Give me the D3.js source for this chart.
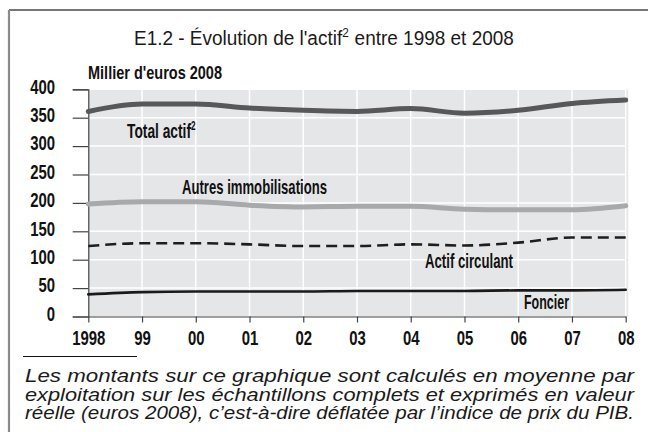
<!DOCTYPE html>
<html>
<head>
<meta charset="utf-8">
<script src="https://cdn.jsdelivr.net/npm/d3@7"></script>
<style>
  html, body { margin: 0; padding: 0; background: #fff; }
  svg { display: block; }
  text.pre { white-space: pre; }
</style>
</head>
<body>
<svg id="chart" width="648" height="432"></svg>
<script>
// ---- Data ----
const years = [1998, 1999, 2000, 2001, 2002, 2003, 2004, 2005, 2006, 2007, 2008];
const yearLabels = ["1998", "99", "00", "01", "02", "03", "04", "05", "06", "07", "08"];
const totalActif = [361, 374, 374, 367, 363, 361, 366, 358, 363, 375, 381];
const autresImmobilisations = [198, 202, 202, 196, 193, 194, 194, 189, 188, 188, 195];
const actifCirculant = [124, 129, 129, 127, 124, 124, 127, 125, 130, 139, 139];
const foncier = [39, 43, 44, 44, 44, 45, 45, 45, 46, 46, 47];
const yTicks = [0, 50, 100, 150, 200, 250, 300, 350, 400];

const svg = d3.select("#chart");
const FONT = "'Liberation Sans', Arial, sans-serif";

// ---- Scales ----
const x = d3.scaleLinear().domain([1998, 2008]).range([88.3, 625.7]);
const y = d3.scaleLinear().domain([0, 400]).range([316.5, 89.3]);

// Helper: text made of pieces (main / superscript) laid out side by side,
// then squeezed horizontally to a target width.
function richText(parent, pieces, x0, y0, width, attrs) {
  const g = parent.append("g");
  const inner = g.append("g");
  let cx = 0;
  pieces.forEach(p => {
    const t = inner.append("text")
      .attr("class", "pre")
      .attr("x", cx).attr("y", p.sup ? -attrs.supRise : 0)
      .attr("font-family", FONT)
      .attr("font-weight", attrs.weight || "normal")
      .attr("font-size", p.sup ? attrs.supSize : attrs.size)
      .attr("fill", attrs.fill || "#111")
      .text(p.t);
    cx += t.node().getComputedTextLength() + (p.sup ? 0.5 : 0);
  });
  const sx = width / cx;
  g.attr("transform", `translate(${x0},${y0}) scale(${sx},1)`);
  return g;
}

// ---- Frame ----
svg.append("line").attr("x1", 9).attr("x2", 648).attr("y1", 10).attr("y2", 10)
  .attr("stroke", "#4a4a4a").attr("stroke-width", 1.5);
svg.append("line").attr("x1", 9).attr("x2", 9).attr("y1", 10).attr("y2", 432)
  .attr("stroke", "#8a8a8a").attr("stroke-width", 2.2);

// ---- Title ----
richText(svg, [
  { t: "E1.2 - Évolution de l'actif" },
  { t: "2", sup: true },
  { t: " entre 1998 et 2008" }
], 134, 45, 380, { size: 21, supSize: 13, supRise: 8, fill: "#1a1a1a" });

// ---- Unit label ----
svg.append("text")
  .attr("x", 88).attr("y", 79)
  .attr("font-family", FONT).attr("font-weight", "bold").attr("font-size", 19)
  .attr("fill", "#111")
  .attr("textLength", 134).attr("lengthAdjust", "spacingAndGlyphs")
  .text("Millier d'euros 2008");

// ---- Plot background & grid ----
svg.append("rect")
  .attr("x", x(1998)).attr("y", y(400))
  .attr("width", x(2008) - x(1998) + 2.5).attr("height", y(0) - y(400))
  .attr("fill", "#e5e6e8");

const grid = svg.append("g").attr("stroke", "#ffffff").attr("stroke-width", 1.5);
grid.selectAll("line.h").data(yTicks.filter(d => d > 0)).join("line")
  .attr("x1", x(1998)).attr("x2", x(2008))
  .attr("y1", d => y(d)).attr("y2", d => y(d));
grid.selectAll("line.v").data(years.slice(1)).join("line")
  .attr("x1", d => x(d)).attr("x2", d => x(d))
  .attr("y1", y(400)).attr("y2", y(0));

// ---- Axes ----
const SX = 0.71;
const yAxis = d3.axisLeft(y).tickValues(yTicks).tickSize(15.6).tickPadding(0).tickFormat(d3.format("d"));
const gy = svg.append("g").attr("transform", `translate(${x(1998)},0)`).call(yAxis);
gy.select(".domain").attr("stroke", "#444").attr("stroke-width", 1.2);
gy.selectAll(".tick line").attr("stroke", "#444").attr("stroke-width", 1.2);
gy.selectAll(".tick text")
  .attr("font-family", FONT).attr("font-weight", "bold").attr("font-size", 21)
  .attr("fill", "#111")
  .attr("x", -33.3 / SX).attr("dy", "0.18em")
  .attr("transform", `scale(${SX},1)`);

const xAxis = d3.axisBottom(x).tickValues(years).tickSize(6).tickSizeOuter(0)
  .tickFormat((d, i) => yearLabels[i]);
const gx = svg.append("g").attr("transform", `translate(0,${y(0)})`).call(xAxis);
gx.select(".domain").attr("stroke", "#444").attr("stroke-width", 1.2);
gx.selectAll(".tick line").attr("stroke", "#444").attr("stroke-width", 1.2);
gx.selectAll(".tick text")
  .attr("font-family", FONT).attr("font-weight", "bold").attr("font-size", 21)
  .attr("fill", "#111")
  .attr("y", 28.5).attr("dy", 0)
  .attr("transform", `scale(${SX},1)`);

// ---- Lines ----
const series = [
  { values: totalActif, color: "#58585a", width: 5, dash: null },
  { values: autresImmobilisations, color: "#a8a9ab", width: 5, dash: null },
  { values: actifCirculant, color: "#1e1e1e", width: 2.6, dash: "11,6" },
  { values: foncier, color: "#1a1a1a", width: 2.6, dash: null }
];
const line = d3.line()
  .x((d, i) => x(years[i]))
  .y(d => y(d))
  .curve(d3.curveMonotoneX);
svg.append("g").selectAll("path").data(series).join("path")
  .attr("d", s => line(s.values))
  .attr("fill", "none")
  .attr("stroke", s => s.color)
  .attr("stroke-width", s => s.width)
  .attr("stroke-dasharray", s => s.dash)
  .attr("stroke-linecap", s => s.dash ? "butt" : "round")
  .attr("stroke-linejoin", "round");

// ---- Series labels ----
const labelStyle = { size: 20, supSize: 12, supRise: 8, weight: "bold", fill: "#111" };
richText(svg, [{ t: "Total actif" }, { t: "2", sup: true }], 127, 138, 69, labelStyle);
richText(svg, [{ t: "Autres immobilisations" }], 182, 194, 145, labelStyle);
richText(svg, [{ t: "Actif circulant" }], 425, 268, 88, labelStyle);
richText(svg, [{ t: "Foncier" }], 524, 309, 45, labelStyle);

// ---- Footnote ----
svg.append("line").attr("x1", 23).attr("x2", 137).attr("y1", 356.5).attr("y2", 356.5)
  .attr("stroke", "#111").attr("stroke-width", 1);
const footLines = [
  "Les montants sur ce graphique sont calculés en moyenne par",
  "exploitation sur les échantillons complets et exprimés en valeur",
  "réelle (euros 2008), c’est-à-dire déflatée par l’indice de prix du PIB."
];
const footY = [382, 400.5, 419];
svg.append("g").selectAll("text").data(footLines).join("text")
  .attr("x", 25).attr("y", (d, i) => footY[i])
  .attr("font-family", FONT).attr("font-style", "italic").attr("font-size", 17.5)
  .attr("fill", "#1a1a1a")
  .attr("textLength", 609).attr("lengthAdjust", "spacingAndGlyphs")
  .text(d => d);
</script>
</body>
</html>
